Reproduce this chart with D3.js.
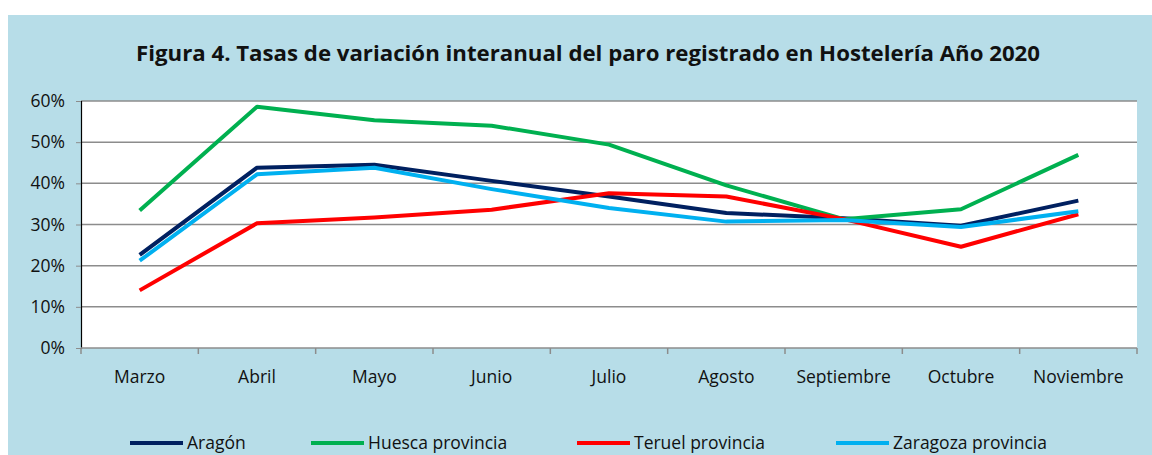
<!DOCTYPE html>
<html>
<head>
<meta charset="utf-8">
<script src="https://cdn.jsdelivr.net/npm/d3@7"></script>
<style>
  body { margin: 0; background: #fff; }
  text { font-family: 'Open Sans', sans-serif; fill: #111; }
</style>
</head>
<body>
<div id="chart"></div>
<script>
// data
const months = ['Marzo', 'Abril', 'Mayo', 'Junio', 'Julio', 'Agosto', 'Septiembre', 'Octubre', 'Noviembre'];
const aragon = [22.6, 43.8, 44.5, 40.6, 36.8, 32.8, 31.5, 29.7, 35.8];
const huesca = [33.4, 58.6, 55.3, 54.0, 49.4, 39.5, 31.3, 33.7, 46.9];
const teruel = [14.0, 30.3, 31.7, 33.6, 37.6, 36.8, 31.3, 24.6, 32.5];
const zaragoza = [21.2, 42.2, 43.8, 38.6, 34.0, 30.7, 31.1, 29.4, 33.2];
const yTicks = [0, 10, 20, 30, 40, 50, 60];

const series = [
  { name: 'Aragón', values: aragon, color: '#002060' },
  { name: 'Huesca provincia', values: huesca, color: '#00b050' },
  { name: 'Teruel provincia', values: teruel, color: '#ff0000' },
  { name: 'Zaragoza provincia', values: zaragoza, color: '#00b0f0' },
];

const width = 1152, height = 455;
const plot = { left: 81, right: 1137, top: 101, bottom: 348 };
const fontSize = 17.5;

const svg = d3.select('#chart').append('svg').attr('width', width).attr('height', height);

// blue chart background
svg.append('rect').attr('x', 8).attr('y', 15).attr('width', width - 8).attr('height', height - 15).attr('fill', '#b7dde8');

// title
svg.append('text')
  .attr('x', 588).attr('y', 61)
  .attr('text-anchor', 'middle')
  .attr('font-size', 21).attr('font-weight', 'bold')
  .attr('textLength', 904).attr('lengthAdjust', 'spacingAndGlyphs')
  .text('Figura 4. Tasas de variación interanual del paro registrado en Hostelería Año 2020');

// plot area
svg.append('rect')
  .attr('x', plot.left).attr('y', plot.top)
  .attr('width', plot.right - plot.left).attr('height', plot.bottom - plot.top)
  .attr('fill', '#fff');

const x = d3.scaleBand().domain(months).range([plot.left, plot.right]);
const y = d3.scaleLinear().domain([0, 60]).range([plot.bottom, plot.top]);

// gridlines
svg.append('g').selectAll('line').data(yTicks.filter((d) => d > 0)).enter().append('line')
  .attr('x1', plot.left).attr('x2', plot.right)
  .attr('y1', (d) => y(d)).attr('y2', (d) => y(d))
  .attr('stroke', '#8c8c8c').attr('stroke-width', 1.5);

// y axis
const yAxis = svg.append('g').attr('transform', `translate(${plot.left},0)`)
  .call(d3.axisLeft(y).tickValues(yTicks).tickFormat((d) => d + '%').tickSize(5).tickPadding(11));
yAxis.select('.domain').attr('stroke', '#000').attr('stroke-width', 1.2);
yAxis.selectAll('.tick line').attr('stroke', '#8c8c8c');
yAxis.selectAll('text').attr('font-size', fontSize).attr('font-family', "'Open Sans', sans-serif").attr('fill', '#111');

// x axis with ticks on category boundaries
const xg = svg.append('g');
xg.append('line')
  .attr('x1', plot.left).attr('x2', plot.right)
  .attr('y1', plot.bottom).attr('y2', plot.bottom)
  .attr('stroke', '#8c8c8c').attr('stroke-width', 1.5);
const bounds = months.map((m) => x(m)).concat([plot.right]);
xg.selectAll('line.tk').data(bounds).enter().append('line').attr('class', 'tk')
  .attr('x1', (d) => d).attr('x2', (d) => d)
  .attr('y1', plot.bottom).attr('y2', plot.bottom + 6)
  .attr('stroke', '#8c8c8c').attr('stroke-width', 1.5);
xg.selectAll('text').data(months).enter().append('text')
  .attr('x', (d) => x(d) + x.bandwidth() / 2)
  .attr('y', 383)
  .attr('text-anchor', 'middle')
  .attr('font-size', fontSize)
  .text((d) => d);

// lines
const line = d3.line()
  .x((d, i) => x(months[i]) + x.bandwidth() / 2)
  .y((d) => y(d));

svg.append('g').selectAll('path').data(series).enter().append('path')
  .attr('d', (d) => line(d.values))
  .attr('fill', 'none')
  .attr('stroke', (d) => d.color)
  .attr('stroke-width', 4)
  .attr('stroke-linejoin', 'round');

// legend
const legendX = [130, 311, 577, 836];
const leg = svg.append('g').selectAll('g').data(series).enter().append('g')
  .attr('transform', (d, i) => `translate(${legendX[i]},443)`);
leg.append('line').attr('x1', 0).attr('x2', 53).attr('stroke', (d) => d.color).attr('stroke-width', 4);
leg.append('text').attr('x', 57).attr('y', 6).attr('font-size', fontSize).text((d) => d.name);
</script>
</body>
</html>
